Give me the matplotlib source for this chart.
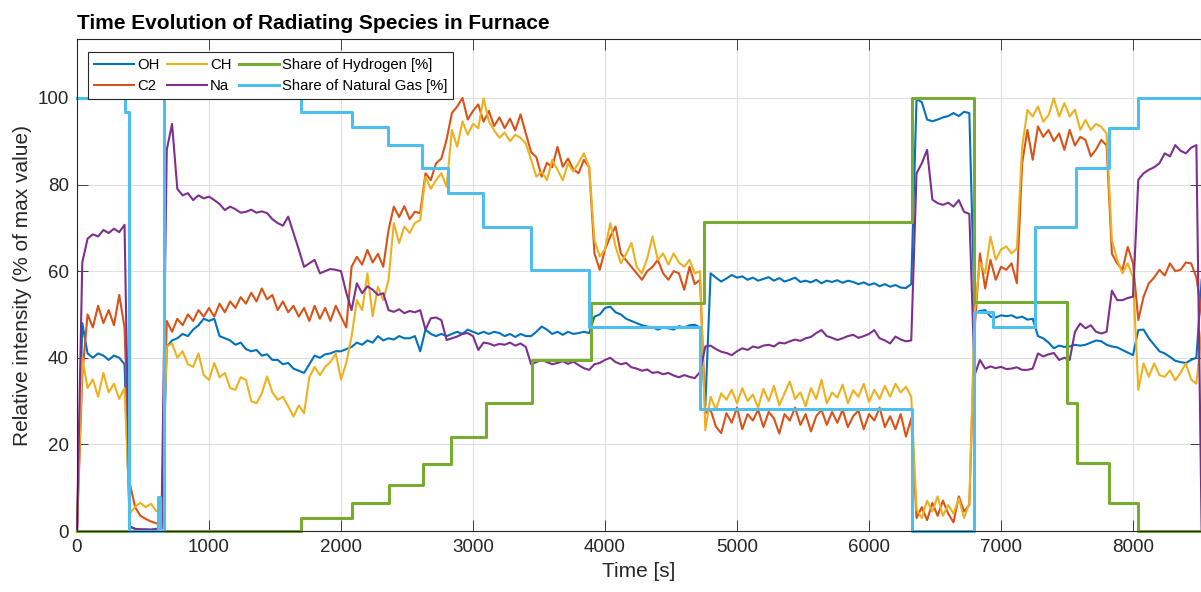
import numpy as np
import matplotlib
matplotlib.use('Agg')
import matplotlib.pyplot as plt

plt.rcParams['font.family'] = ['Liberation Sans', 'DejaVu Sans']

# sample times of the spectrometer signals [s]
t = np.arange(0, 8521, 40)

oh = [0, 48, 41, 40, 41, 40.5, 39.5, 40.5, 40, 38.5,
      1, 0.5, 0.3, 0.4, 0.3, 0.5, 0.6, 42.5, 44, 44.5,
      45.5, 45, 46.5, 47.5, 49, 48.5, 49, 45, 44.5, 44,
      43, 43.5, 42, 41.5, 41.8, 40.5, 40.8, 39.5, 39.5, 38.5,
      38.8, 37.5, 37, 36.5, 38.5, 40.5, 40, 40.8, 41, 41.5,
      41.5, 42, 42.5, 43.5, 43, 44, 43.5, 45, 44, 44.5,
      44.2, 45, 44.5, 44.5, 45, 41.5, 46.5, 45.5, 45, 45.5,
      45, 45.5, 46, 45.5, 46.5, 46, 45.5, 46, 45.5, 46,
      45.7, 45, 45.5, 44.8, 45.5, 45, 45, 46, 47.2, 46.5,
      45.5, 46, 45.3, 46, 45.5, 45.7, 46, 45.7, 49.5, 50,
      51.5, 51.8, 50.5, 50, 49, 48.5, 48, 47.5, 47.2, 47,
      46.5, 47, 46.8, 46.5, 47.3, 47, 47.5, 47.6, 47, 29,
      59.5, 58.5, 57.6, 58.3, 59.1, 58.5, 58.8, 58, 58.5, 57.8,
      58.2, 58.6, 57.8, 58.4, 57.6, 58, 58.5, 57.5, 57.8, 57.4,
      58, 57.2, 57.8, 57.5, 57.9, 57.3, 57.8, 57.5, 57, 57.4,
      56.8, 57.2, 56.5, 57, 56.4, 56.8, 56.2, 56.1, 57, 99.8,
      99, 95, 94.6, 95, 95.5, 95.8, 96.5, 95.8, 96.8, 96.5,
      50.3, 50.8, 51, 49.5, 49.3, 49.8, 49.6, 49.8, 49.2, 49.5,
      48.8, 49, 45, 44.5, 43.5, 42.2, 42.8, 42.5, 42.6, 43,
      42.8, 43, 43.5, 44, 43.8, 43, 42.6, 42.4, 41.8, 41.2,
      40.6, 46.4, 46.5, 44.5, 43, 41.5, 41, 40.2, 39.3, 39,
      38.8, 39.5, 40, 58]

c2 = [0, 36, 50, 47, 52, 48, 51, 47.5, 54.5, 47,
      11, 5.5, 3.5, 2.8, 2.2, 1.8, 1.2, 48.5, 46, 49,
      47.5, 50, 48.5, 51, 49.5, 51.5, 49.5, 52.5, 50.5, 53,
      51.5, 54, 52.5, 55, 53, 56, 53.5, 54.5, 51, 53,
      50.5, 52, 49.5, 51.5, 48.5, 52, 49, 51.5, 48.5, 52,
      49.5, 47, 61, 63.3, 61.5, 64.9, 62, 64, 61, 69.5,
      74.9, 72.5, 75, 72, 73.7, 73.4, 82.6, 81, 84.9, 86,
      90.4, 96.5, 98, 100, 95, 97, 98.5, 94.5, 97, 93.5,
      95.5, 93, 95.2, 92.5, 96.2, 91.8, 87.5, 86.3, 81.8, 85,
      84, 88.7, 84.1, 86, 83.5, 82.6, 85.7, 84, 64.1, 60.3,
      65, 68, 70.3, 64.1, 62.5, 61, 59.5, 58, 60, 61,
      62.6, 59.5, 58, 60, 59.5, 55.7, 61, 57, 58, 27.2,
      28, 24.1, 22.6, 27.2, 25, 28.5, 23.5, 27, 25.5, 28,
      24, 27.5, 26, 22.5, 27, 25.5, 28.5, 24.5, 27, 23,
      26.5, 28, 24.5, 27.5, 25, 28, 24, 26.5, 27.8, 23.5,
      27, 25.5, 28.5, 24, 26.5, 23.5, 27, 21.8, 26, 3,
      5.5, 2.5, 6.5, 3.5, 7, 4, 2, 8, 4.5, 6,
      46.4, 64.1, 56, 62.6, 58, 61, 60.3, 61.8, 57.2, 84.9,
      92.6, 85.7, 93.4, 91, 92.6, 90, 91.8, 88, 92.6, 89,
      91, 90.3, 86.5, 88.1, 90.3, 89, 64, 61.8, 60.3, 65.6,
      61.8, 48.7, 54.1, 57.2, 58.5, 60.3, 59, 61.8, 60, 60.3,
      62, 61.8, 58.6, 50]

ch = [0, 40, 33, 35, 31, 36.5, 32, 34, 30.5, 33,
      4, 5.6, 6.5, 5.5, 6.3, 4.6, 5, 42.6, 43.3, 40,
      41.5, 38.5, 37.9, 41, 36, 34.9, 38.8, 35.5, 36.5, 33,
      32.6, 35.5, 34.9, 30, 29.5, 31.8, 35.7, 32, 30.3, 31,
      28.8, 26.4, 29, 27.2, 35.5, 37.9, 36, 37.9, 39, 41,
      35, 38.8, 44.9, 53.3, 51, 59.5, 49.6, 56.4, 53.3, 58,
      71.1, 66.5, 70.3, 68.8, 71.1, 71.8, 81.8, 79, 81, 82.6,
      79.5, 92.6, 88.7, 94.6, 91.5, 94, 93, 99.9, 94.6, 92.5,
      90.8, 92, 90, 91.5, 90.8, 89.5, 85.7, 81.8, 83, 81,
      85.7, 83.4, 81, 84.9, 83, 85, 87.2, 84, 67.2, 63.4,
      65, 71.1, 65.7, 61.8, 64, 66.5, 61, 59.5, 63, 68,
      62.6, 64.1, 61.5, 64.1, 62, 61, 62.6, 59.5, 60, 23.3,
      31, 28, 31.8, 30.3, 32.6, 29.5, 33, 30, 31.5, 28.5,
      32.8, 30, 33.5, 29, 31.8, 34.5, 30.5, 32, 28.8, 33,
      30.5, 34.9, 29.5, 32, 30.8, 33.8, 29.5, 32.5, 31, 34,
      29.8, 32.6, 30.5, 33.5, 31, 34, 32, 33.3, 31, 5,
      3, 7, 4.5, 8, 3.5, 6, 4, 7.5, 3, 6.5,
      50.3, 62, 59.5, 68, 62.6, 65, 65.7, 64.1, 65.2, 88.7,
      97.2, 95.7, 98, 94.5, 96, 99.9, 95.7, 98.8, 95.7, 97.3,
      92.6, 94.9, 92.6, 94, 93.3, 91.8, 67.2, 62.6, 59.5, 61.8,
      58.6, 32.6, 38.7, 35.6, 38.7, 36, 35.6, 37.1, 34.8, 36.5,
      38.7, 35, 34, 46]

na = [0, 62, 67.5, 68.5, 68, 69.5, 68.8, 69.8, 69, 70.7,
      1, 0.5, 0.4, 0.3, 0.3, 0.4, 0.5, 88, 94, 79,
      77.5, 78, 76.4, 77.5, 76.8, 77.2, 76.4, 75.5, 74.1, 74.9,
      74.3, 73.5, 73.7, 74.2, 73.5, 73.8, 73.4, 72, 71.1, 70.5,
      72.6, 68.8, 65, 61, 61.8, 62.6, 59.5, 60, 60.5, 60.3,
      60, 55, 51, 57.2, 54.9, 56.5, 55.7, 54.5, 54.9, 51,
      50.6, 51.2, 50.3, 50.8, 50.5, 51, 46.5, 49.1, 49.3, 48.7,
      44.1, 44.5, 44.9, 45.5, 45.7, 45, 41.8, 43.5, 43.3, 42.8,
      43.2, 43, 43.5, 42.8, 43.3, 42.5, 38.5, 39, 39.5, 39,
      38.5, 38.8, 39.2, 38.6, 39.1, 38.3, 37.6, 37.2, 38.5, 38.8,
      39.5, 40, 39, 38.5, 38.8, 37.8, 37.5, 37, 37.3, 36.5,
      36.7, 36.2, 36.5, 35.9, 35.5, 36, 35.6, 35.3, 36.7, 42.6,
      42.8, 42, 41.4, 41.1, 40.6, 41.5, 42.2, 41.8, 42.6, 42.3,
      42.8, 43, 42.6, 43.5, 43.3, 43.8, 44.2, 43.9, 44.5, 44.8,
      45.7, 46.4, 45, 44.6, 44.1, 44.5, 45, 45.3, 44.6, 45,
      45.5, 46.4, 44.5, 44, 43.3, 44.9, 44.2, 43.8, 44, 82.6,
      84.9, 88, 76.5, 75.7, 75.3, 75.8, 74.9, 76.4, 73.7, 73.2,
      36, 39.5, 37.5, 38, 37.6, 37.9, 37.4, 37.5, 37.8, 37.2,
      37.2, 37.5, 41, 40.3, 40.8, 41.1, 39.5, 40, 39.5, 46,
      47.9, 46.8, 47.5, 46, 45.6, 46, 55.5, 53.3, 53.3, 53.8,
      54.1, 81.1, 82.6, 83.4, 84, 84.9, 87.2, 86.5, 89.1, 87.8,
      87.2, 88.5, 89.1, 0]

# fuel shares: switching times [s] and levels [%]
h2_t = [0, 1697, 2086, 2366, 2619, 2831, 3096, 3449, 3894, 4750,
        6323, 6795, 7498, 7573, 7820, 8035, 8540]
h2_v = [0, 2.9, 6.4, 10.6, 15.5, 21.6, 29.6, 39.4, 52.7, 71.4,
        100, 52.8, 29.6, 15.7, 6.5, 0, 0]

ng_t = [0, 360, 395, 614, 630, 661, 675, 1697, 2080, 2356, 2614, 2811,
        3076, 3442, 3879, 4720, 6323, 6795, 6939, 7258, 7570, 7818, 8035, 8540]
ng_v = [100, 96.7, 0, 7.9, 0, 101.8, 100, 96.7, 93.2, 89.1, 83.9, 78.0,
        70.3, 60.2, 47.2, 28.1, 0, 50.6, 47.2, 70.3, 83.9, 93.1, 100, 100]

fig = plt.figure(figsize=(12.01, 5.92), dpi=100)
ax = fig.add_axes([77 / 1201, 61 / 592, 1124 / 1201, 492 / 592])

ax.plot(t, oh, color='#0072BD', lw=1.5, label='OH', clip_on=False)
ax.plot(t, c2, color='#D95319', lw=1.5, label='C2', clip_on=False)
ax.plot(t, ch, color='#EDB120', lw=1.5, label='CH', clip_on=False)
ax.plot(t, na, color='#7E2F8E', lw=1.5, label='Na', clip_on=False)
ax.step(h2_t, h2_v, where='post', color='#77AC30', lw=2.2,
        label='Share of Hydrogen [%]', clip_on=False)
ax.step(ng_t, ng_v, where='post', color='#4DBEEE', lw=2.2,
        label='Share of Natural Gas [%]', clip_on=False)

ax.set_xlim(0, 8515)
ax.set_ylim(0, 113.6)
ax.set_xticks(range(0, 8001, 1000))
ax.set_yticks(range(0, 101, 20))
ax.grid(True, color='#dfdfdf', lw=0.8)
ax.set_axisbelow(True)
ax.tick_params(direction='in', length=8, width=0.6, top=True, right=True,
               labelsize=13.5, colors='#262626', pad=6)
for s in ax.spines.values():
    s.set_color('#262626')
    s.set_linewidth(0.8)

ax.set_title('Time Evolution of Radiating Species in Furnace', loc='left',
             fontsize=15, fontweight='bold', pad=7)
ax.set_xlabel('Time [s]', fontsize=15, color='#262626')
ax.set_ylabel('Relative intensity (% of max value)', fontsize=15, color='#262626')

leg = ax.legend(ncol=3, loc='upper left', bbox_to_anchor=(11 / 1124, 1 - 13 / 492),
                borderaxespad=0, fontsize=10.7, handlelength=2.7, handletextpad=0.2,
                columnspacing=0.5, labelspacing=0.5, borderpad=0.4,
                fancybox=False, edgecolor='#262626', framealpha=1)
leg.get_frame().set_linewidth(0.8)

fig.savefig('out.png', dpi=100)
